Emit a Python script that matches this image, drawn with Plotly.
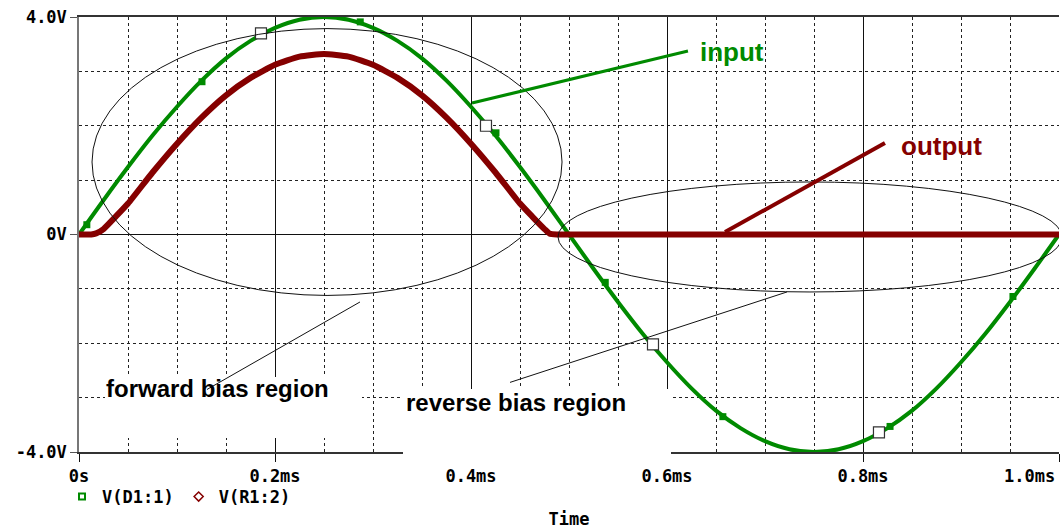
import plotly.graph_objects as go

# ---------------- data ----------------
time_in = [0.0, 0.025, 0.05, 0.075, 0.1, 0.125, 0.15, 0.175, 0.2, 0.225, 0.25,
           0.275, 0.3, 0.325, 0.35, 0.375, 0.4, 0.425, 0.45, 0.475, 0.5,
           0.525, 0.55, 0.575, 0.6, 0.625, 0.65, 0.675, 0.7, 0.725, 0.75,
           0.775, 0.8, 0.825, 0.85, 0.875, 0.9, 0.925, 0.95, 0.975, 1.0]
v_input = [0.00, 0.63, 1.24, 1.82, 2.35, 2.83, 3.24, 3.56, 3.80, 3.95, 4.00,
           3.95, 3.80, 3.56, 3.24, 2.83, 2.35, 1.82, 1.24, 0.63, 0.00,
           -0.63, -1.24, -1.82, -2.35, -2.83, -3.24, -3.56, -3.80, -3.95, -4.00,
           -3.95, -3.80, -3.56, -3.24, -2.83, -2.35, -1.82, -1.24, -0.63, 0.00]

time_out = [0.0, 0.0125, 0.0175, 0.025, 0.0375, 0.05, 0.075, 0.1, 0.125, 0.15, 0.175, 0.2,
            0.225, 0.25, 0.275, 0.3, 0.325, 0.35, 0.375, 0.4, 0.425, 0.45,
            0.4625, 0.475, 0.48, 0.4875, 0.5, 0.6, 0.7, 0.8, 0.9, 1.0]
v_output = [0.00, 0.00, 0.02, 0.10, 0.33, 0.57, 1.14, 1.67, 2.15, 2.56, 2.88, 3.12,
            3.27, 3.32, 3.27, 3.12, 2.88, 2.56, 2.15, 1.67, 1.14, 0.57,
            0.33, 0.10, 0.02, 0.00, 0.00, 0.00, 0.00, 0.00, 0.00, 0.00]

# small filled trace-point markers on V(D1:1)
pt_time = [0.008, 0.1255, 0.287, 0.4255, 0.537, 0.657, 0.8276, 0.953]
pt_volt = [0.18, 2.81, 3.91, 1.87, -0.88, -3.35, -3.53, -1.14]

# hollow trace symbols on V(D1:1)
sym_time = [0.1857, 0.4153, 0.5857, 0.8163]
sym_volt = [3.70, 2.00, -2.02, -3.64]

x_tickvals = [0.0, 0.2, 0.4, 0.6, 0.8, 1.0]
x_ticktext = ["0s", "0.2ms", "0.4ms", "0.6ms", "0.8ms", "1.0ms"]
y_tickvals = [-4.0, 0.0, 4.0]
y_ticktext = ["-4.0V", "0V", "4.0V"]

series_names = ["V(D1:1)", "V(R1:2)"]

# ---------------- styling ----------------
GREEN = "#008a00"
RED = "#850000"
MONO = "DejaVu Sans Mono"
SANS = "Liberation Sans"

W, H = 1060, 529
L, R, T, B = 79, 1, 17, 77

fig = go.Figure()

fig.add_trace(go.Scatter(x=time_in, y=v_input, mode="lines",
                         line=dict(color=GREEN, width=4, shape="spline", smoothing=1.0),
                         showlegend=False, hoverinfo="skip"))
fig.add_trace(go.Scatter(x=time_out, y=v_output, mode="lines",
                         line=dict(color=RED, width=6, shape="spline", smoothing=0.5),
                         showlegend=False, hoverinfo="skip"))
fig.add_trace(go.Scatter(x=pt_time, y=pt_volt, mode="markers",
                         marker=dict(symbol="square", size=7, color=GREEN),
                         showlegend=False, hoverinfo="skip"))
fig.add_trace(go.Scatter(x=sym_time, y=sym_volt, mode="markers",
                         marker=dict(symbol="square", size=11, color="white",
                                     line=dict(color="#333", width=1.2)),
                         showlegend=False, hoverinfo="skip"))

# legend-only entries
fig.add_trace(go.Scatter(x=[None], y=[None], mode="markers", name=series_names[0],
                         marker=dict(symbol="square-open", size=6, color=GREEN,
                                     line=dict(width=2))))
fig.add_trace(go.Scatter(x=[None], y=[None], mode="markers", name=series_names[1],
                         marker=dict(symbol="diamond-open", size=7, color=RED,
                                     line=dict(width=1.5))))

# the last x label sits left-aligned against the right edge in the reference,
# so the axis shows the others and the last one is placed flush right below.
ticktext_x = list(x_ticktext)
ticktext_x[-1] = ""

tickfont = dict(family=MONO, size=17, color="black", weight="bold")

fig.update_xaxes(
    range=[0, 1.0], tickvals=x_tickvals, ticktext=ticktext_x,
    showgrid=True, gridcolor="#111", gridwidth=1,
    minor=dict(tick0=0, dtick=0.05, showgrid=True, gridcolor="#222",
               griddash="3px,3px", gridwidth=1),
    ticks="outside", ticklen=8, tickcolor="#111", tickwidth=1,
    showline=True, linecolor="#333", linewidth=1.5, mirror=True,
    zeroline=False, tickfont=tickfont,
    automargin=False,
    title=dict(text="Time", font=tickfont, standoff=40),
)
fig.update_yaxes(
    range=[-4.0, 4.0], tickvals=y_tickvals, ticktext=y_ticktext,
    showgrid=True, gridcolor="#111", gridwidth=1,
    minor=dict(tick0=0, dtick=1, showgrid=True, gridcolor="#222",
               griddash="3px,3px", gridwidth=1),
    ticks="outside", ticklen=7, tickcolor="#555", tickwidth=1,
    showline=True, linecolor="#777", linewidth=1.5,
    zeroline=False, tickfont=tickfont, automargin=False,
)


def px(xp):
    return (xp - L) / (W - L - R)


def py(yp):
    return (H - B - yp) / (H - T - B)


shapes = []
# region ellipses
shapes.append(dict(type="circle", xref="x", yref="y", x0=0.0133, x1=0.4929,
                   y0=3.787, y1=-1.121, line=dict(color="#111", width=1), layer="above"))
shapes.append(dict(type="circle", xref="x", yref="y", x0=0.4888, x1=1.003,
                   y0=0.966, y1=-1.057, line=dict(color="#111", width=1), layer="above"))
# white label boxes
shapes.append(dict(type="rect", xref="paper", yref="paper", x0=px(105), x1=px(362),
                   y0=py(438), y1=py(377), fillcolor="white", line=dict(width=0), layer="above"))
shapes.append(dict(type="rect", xref="paper", yref="paper", x0=px(403), x1=px(671),
                   y0=py(462), y1=py(389), fillcolor="white", line=dict(width=0), layer="above"))
# pointer lines
shapes.append(dict(type="line", xref="x", yref="y", x0=0.1306, y0=-2.85, x1=0.2867, y1=-1.241,
                   line=dict(color="#111", width=1), layer="above"))
shapes.append(dict(type="line", xref="x", yref="y", x0=0.4398, y0=-2.72, x1=0.7224, y1=-1.057,
                   line=dict(color="#111", width=1), layer="above"))
shapes.append(dict(type="line", xref="x", yref="y", x0=0.4010, y0=2.418, x1=0.6214, y1=3.375,
                   line=dict(color=GREEN, width=3), layer="above"))
shapes.append(dict(type="line", xref="x", yref="y", x0=0.6592, y0=0.046, x1=0.8224, y1=1.683,
                   line=dict(color=RED, width=4), layer="above"))

annotations = [
    dict(x=0.6663, y=3.356, xref="x", yref="y", text="input", showarrow=False,
         font=dict(family=SANS, size=26, color=GREEN, weight="bold")),
    dict(x=0.8806, y=1.628, xref="x", yref="y", text="output", showarrow=False,
         font=dict(family=SANS, size=26, color=RED, weight="bold")),
    dict(x=0.1418, y=-2.84, xref="x", yref="y", text="forward bias region", showarrow=False,
         font=dict(family=SANS, size=24, color="black", weight="bold")),
    dict(x=0.4459, y=-3.09, xref="x", yref="y", text="reverse bias region", showarrow=False,
         font=dict(family=SANS, size=24, color="black", weight="bold")),
    dict(x=x_tickvals[-1], y=py(476), xref="x", yref="paper", text=x_ticktext[-1],
         showarrow=False, xanchor="right", yanchor="middle", xshift=-2,
         font=tickfont),
]

fig.update_layout(
    width=W, height=H, autosize=False,
    margin=dict(l=L, r=R, t=T, b=B, pad=0, autoexpand=False),
    paper_bgcolor="white", plot_bgcolor="white",
    shapes=shapes, annotations=annotations,
    showlegend=True,
    legend=dict(orientation="h", x=px(62), y=py(497), xanchor="left", yanchor="middle",
                font=dict(family=MONO, size=17, color="black", weight="bold"),
                bgcolor="rgba(0,0,0,0)", itemwidth=30, tracegroupgap=0),
)

fig.write_html("out.html")
